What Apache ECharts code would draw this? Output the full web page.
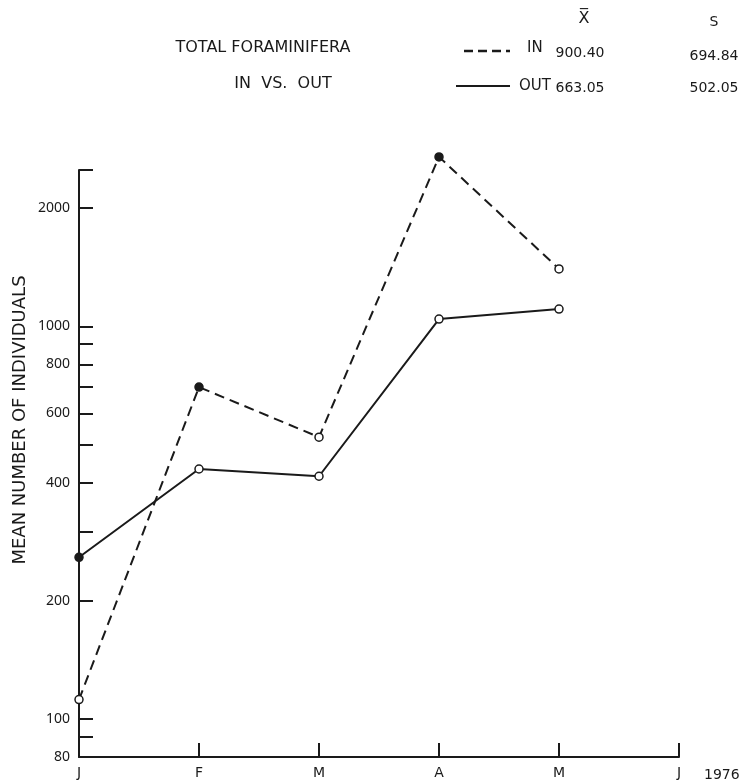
<!DOCTYPE html>
<html><head><meta charset="utf-8">
<script src="https://cdn.jsdelivr.net/npm/echarts@6/dist/echarts.min.js"></script>
<style>html,body{margin:0;padding:0;background:#fff}#c{width:751px;height:784px}</style>
</head><body><div id="c"></div>
<script>
const months = ['J', 'F', 'M', 'A', 'M', 'J'];
const inValues = [112, 700, 522, 2700, 1400];
const outValues = [258, 433, 415, 1043, 1106];
const inFilled = [false, true, false, true, false];
const outFilled = [true, false, false, false, false];
const yTickValues = [80, 90, 100, 200, 300, 400, 500, 600, 700, 800, 900, 1000, 2000, 2500];
const yLabelValues = [80, 100, 200, 400, 600, 800, 1000, 2000];
const legendNames = ['IN', 'OUT'];
const legendMeans = ['900.40', '663.05'];
const legendSDs = ['694.84', '502.05'];
const titleLines = ['TOTAL FORAMINIFERA', 'IN  VS.  OUT'];
const yAxisTitle = 'MEAN NUMBER OF INDIVIDUALS';
const yearLabel = '1976';

const INK = '#1a1a1a';
const FONT = 'DejaVu Sans';

function pts(values, filled) {
  return values.map((v, i) => ({
    value: v,
    itemStyle: { color: filled[i] ? INK : '#fff', borderColor: INK, borderWidth: 1.5 }
  }));
}

const chart = echarts.init(document.getElementById('c'), null, { renderer: 'canvas' });
const txt = (x, y, text, align, size) => ({
  type: 'text', x: x, y: y,
  style: { text: text, fill: INK, font: (size || 15) + 'px "' + FONT + '"', textAlign: align || 'left', textVerticalAlign: 'middle' }
});

chart.setOption({
  backgroundColor: '#fff',
  animation: false,
  grid: { left: 79, right: 72, top: 170, bottom: 27, containLabel: false },
  xAxis: {
    type: 'category', data: months, boundaryGap: false,
    axisLine: { lineStyle: { color: INK, width: 2 } },
    axisTick: { inside: true, length: 14, lineStyle: { color: INK, width: 2 } },
    axisLabel: { color: INK, fontFamily: FONT, fontSize: 14, margin: 9 },
    splitLine: { show: false }
  },
  yAxis: {
    type: 'log', logBase: 10, min: 80, max: 2500,
    axisLine: { show: true, lineStyle: { color: INK, width: 2 } },
    axisTick: { show: true, inside: true, length: 14, customValues: yTickValues, lineStyle: { color: INK, width: 2 } },
    axisLabel: { color: INK, fontFamily: 'Noto Sans', fontSize: 14, margin: 9, customValues: yLabelValues,
      formatter: v => String(Math.round(v)) },
    splitLine: { show: false },
    minorTick: { show: false }
  },
  series: [
    {
      name: 'IN', type: 'line', data: pts(inValues, inFilled), clip: false,
      symbol: 'circle', symbolSize: 8,
      lineStyle: { color: INK, width: 2, type: [10, 6] }, z: 3
    },
    {
      name: 'OUT', type: 'line', data: pts(outValues, outFilled), clip: false,
      symbol: 'circle', symbolSize: 8,
      lineStyle: { color: INK, width: 2 }, z: 3
    }
  ],
  graphic: [
    txt(263, 48, titleLines[0], 'center', 16),
    txt(283, 84, titleLines[1], 'center', 16),
    txt(584, 19, 'X\u0305', 'center', 16),
    txt(714, 22, 'S', 'center', 14),
    { type: 'line', shape: { x1: 464, y1: 51, x2: 510, y2: 51 }, style: { stroke: INK, lineWidth: 2.5, lineDash: [9, 5] } },
    { type: 'line', shape: { x1: 456, y1: 86, x2: 510, y2: 86 }, style: { stroke: INK, lineWidth: 2 } },
    txt(527, 48, legendNames[0], 'left', 15),
    txt(519, 86, legendNames[1], 'left', 15),
    txt(580, 53, legendMeans[0], 'center', 14),
    txt(580, 88, legendMeans[1], 'center', 14),
    txt(714, 56, legendSDs[0], 'center', 14),
    txt(714, 88, legendSDs[1], 'center', 14),
    txt(704, 775, yearLabel, 'left', 14),
    { type: 'text', x: 20, y: 420, rotation: Math.PI / 2,
      style: { text: yAxisTitle, fill: INK, font: '18px "' + FONT + '"', textAlign: 'center', textVerticalAlign: 'middle' } }
  ]
});
</script>
</body></html>
